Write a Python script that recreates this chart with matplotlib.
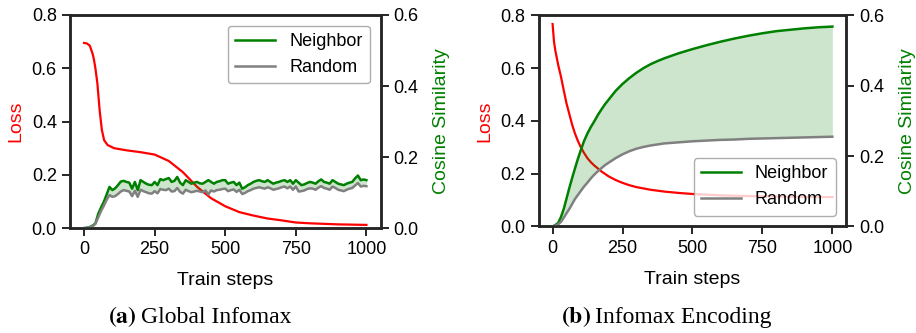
import numpy as np
import matplotlib
matplotlib.use("Agg")
import matplotlib.pyplot as plt

# ---- (a) Global Infomax ----
steps_a = list(range(0, 1001, 10))
neighbor_a = [0.000, 0.001, 0.003, 0.007, 0.013, 0.040, 0.058, 0.074, 0.095, 0.116,
              0.107, 0.112, 0.121, 0.131, 0.133, 0.130, 0.128, 0.111, 0.130, 0.107,
              0.135, 0.130, 0.125, 0.122, 0.121, 0.130, 0.121, 0.138, 0.135, 0.138,
              0.141, 0.130, 0.133, 0.144, 0.128, 0.121, 0.135, 0.130, 0.125, 0.128,
              0.130, 0.126, 0.125, 0.130, 0.135, 0.130, 0.125, 0.130, 0.132, 0.135,
              0.135, 0.125, 0.128, 0.130, 0.121, 0.128, 0.111, 0.115, 0.121, 0.125,
              0.130, 0.133, 0.135, 0.132, 0.130, 0.135, 0.130, 0.125, 0.128, 0.130,
              0.133, 0.135, 0.130, 0.135, 0.125, 0.135, 0.128, 0.121, 0.123, 0.127,
              0.130, 0.128, 0.125, 0.132, 0.137, 0.130, 0.128, 0.125, 0.135, 0.130,
              0.125, 0.123, 0.121, 0.125, 0.128, 0.130, 0.140, 0.148, 0.135, 0.137,
              0.135]
random_a = [0.000, 0.001, 0.002, 0.005, 0.012, 0.030, 0.048, 0.063, 0.080, 0.093,
            0.088, 0.090, 0.096, 0.103, 0.107, 0.105, 0.103, 0.090, 0.105, 0.088,
            0.108, 0.104, 0.101, 0.098, 0.097, 0.104, 0.098, 0.110, 0.108, 0.107,
            0.111, 0.103, 0.104, 0.113, 0.102, 0.097, 0.108, 0.104, 0.101, 0.103,
            0.105, 0.103, 0.101, 0.106, 0.095, 0.106, 0.103, 0.107, 0.108, 0.110,
            0.111, 0.104, 0.107, 0.109, 0.102, 0.108, 0.096, 0.099, 0.104, 0.107,
            0.111, 0.113, 0.115, 0.113, 0.111, 0.115, 0.112, 0.108, 0.110, 0.112,
            0.115, 0.117, 0.112, 0.117, 0.108, 0.117, 0.103, 0.104, 0.106, 0.110,
            0.112, 0.111, 0.108, 0.114, 0.118, 0.113, 0.111, 0.108, 0.117, 0.113,
            0.108, 0.106, 0.104, 0.108, 0.111, 0.113, 0.120, 0.127, 0.117, 0.119,
            0.118]
loss_steps_a = [0, 10, 20, 30, 35, 40, 47, 55, 63, 71, 83, 106, 150, 200, 250, 300,
                350, 400, 450, 500, 550, 600, 650, 700, 750, 800, 850, 900, 950, 1000]
loss_a = [0.695, 0.693, 0.685, 0.655, 0.632, 0.600, 0.544, 0.443, 0.368, 0.330, 0.312,
          0.300, 0.292, 0.285, 0.276, 0.252, 0.210, 0.155, 0.112, 0.082, 0.060, 0.047,
          0.036, 0.029, 0.021, 0.018, 0.016, 0.014, 0.013, 0.012]

# ---- (b) Infomax Encoding ----
steps_b = [0, 10, 20, 30, 40, 50, 60, 70, 80, 90, 100, 112, 125, 137, 150, 162, 175,
           187, 200, 225, 250, 275, 300, 325, 350, 375, 400, 450, 500, 550, 600, 650,
           700, 750, 800, 850, 900, 950, 1000]
neighbor_b = [0.0, 0.004, 0.010, 0.027, 0.050, 0.080, 0.110, 0.138, 0.165, 0.191,
              0.215, 0.242, 0.265, 0.283, 0.300, 0.317, 0.333, 0.347, 0.360, 0.385,
              0.405, 0.422, 0.437, 0.450, 0.461, 0.470, 0.478, 0.492, 0.504, 0.515,
              0.525, 0.534, 0.542, 0.549, 0.555, 0.559, 0.563, 0.566, 0.568]
random_b = [0.0, 0.002, 0.006, 0.013, 0.025, 0.038, 0.050, 0.064, 0.078, 0.089,
            0.100, 0.113, 0.125, 0.137, 0.148, 0.157, 0.166, 0.174, 0.181, 0.194,
            0.205, 0.214, 0.221, 0.226, 0.230, 0.233, 0.236, 0.239, 0.242, 0.244,
            0.246, 0.247, 0.249, 0.250, 0.251, 0.252, 0.253, 0.254, 0.255]
loss_steps_b = [0, 5, 10, 20, 30, 40, 50, 60, 70, 80, 90, 100, 112, 125, 137, 150, 175,
                200, 225, 250, 275, 300, 350, 400, 450, 500, 600, 700, 800, 900, 1000]
loss_b = [0.767, 0.700, 0.665, 0.612, 0.567, 0.515, 0.465, 0.425, 0.385, 0.352, 0.325,
          0.302, 0.279, 0.258, 0.243, 0.230, 0.208, 0.190, 0.176, 0.165, 0.156, 0.149,
          0.139, 0.132, 0.127, 0.123, 0.118, 0.115, 0.113, 0.112, 0.111]

plt.rcParams["font.family"] = ["Liberation Sans", "DejaVu Sans"]
plt.rcParams["axes.edgecolor"] = "0.15"
plt.rcParams["axes.linewidth"] = 1.8
plt.rcParams["xtick.major.size"] = 6
plt.rcParams["ytick.major.size"] = 6
plt.rcParams["xtick.major.width"] = 1.4
plt.rcParams["ytick.major.width"] = 1.4
plt.rcParams["xtick.color"] = "0.15"
plt.rcParams["ytick.color"] = "0.15"
plt.rcParams["xtick.labelcolor"] = "black"
plt.rcParams["ytick.labelcolor"] = "black"

fig = plt.figure(figsize=(9.16, 3.33), dpi=100)
ax_a = fig.add_axes([0.0764, 0.315, 0.339, 0.640])
ax_b = fig.add_axes([0.588, 0.320, 0.336, 0.634])


def panel(ax, ls, loss, steps, nb, rd, legend_loc):
    ax.plot(ls, loss, color="red", lw=1.6)
    ax.set_ylim(0, 0.8)
    ax.set_yticks([0.0, 0.2, 0.4, 0.6, 0.8])
    ax.set_xlim(-50, 1050)
    ax.set_xticks([0, 250, 500, 750, 1000])
    ax.set_ylabel("Loss", color="red", fontsize=14, labelpad=5)
    ax.set_xlabel("Train steps", fontsize=14, labelpad=10)
    ax.tick_params(labelsize=13)
    ax2 = ax.twinx()
    ax2.plot(steps, nb, color="green", lw=1.8, label="Neighbor")
    ax2.plot(steps, rd, color="gray", lw=1.8, label="Random")
    ax2.fill_between(steps, rd, nb, color="green", alpha=0.2, lw=0)
    ax2.set_ylim(0, 0.6)
    ax2.set_yticks([0.0, 0.2, 0.4, 0.6])
    ax2.set_ylabel("Cosine Similarity", color="green", fontsize=14, labelpad=10)
    ax2.tick_params(labelsize=13)
    ax2.legend(loc=legend_loc, fontsize=13, edgecolor="0.6", fancybox=True,
               handlelength=2.2, borderaxespad=0.6)
    return ax2


panel(ax_a, loss_steps_a, loss_a, steps_a, neighbor_a, random_a, "upper right")
panel(ax_b, loss_steps_b, loss_b, steps_b, neighbor_b, random_b, "lower right")

serif = ["Liberation Serif", "DejaVu Serif"]
fig.text(0.149, 0.048, r"$\mathbf{(a)}$", ha="right", va="center", fontsize=17,
         family=serif, math_fontfamily="stix")
fig.text(0.154, 0.048, "Global Infomax", ha="left", va="center", fontsize=17, family=serif)
fig.text(0.645, 0.048, r"$\mathbf{(b)}$", ha="right", va="center", fontsize=17,
         family=serif, math_fontfamily="stix")
fig.text(0.650, 0.048, "Infomax Encoding", ha="left", va="center", fontsize=17, family=serif)

fig.savefig("out.png", dpi=100)
